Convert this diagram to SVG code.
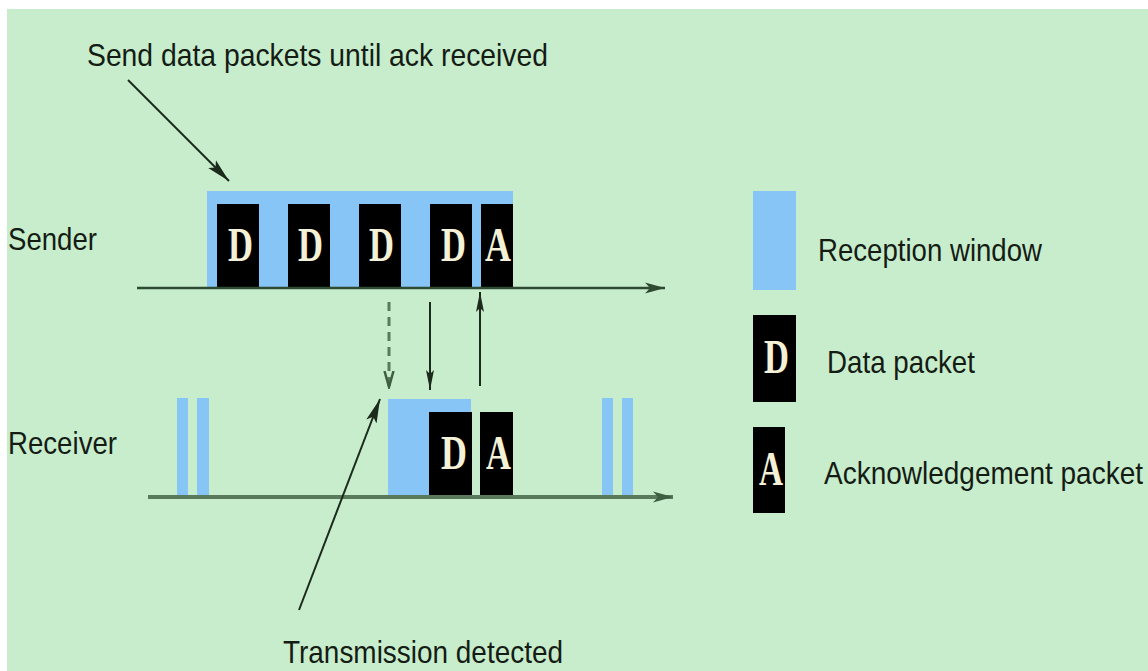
<svg xmlns="http://www.w3.org/2000/svg" width="1148" height="671" viewBox="0 0 1148 671">
  <style>
    .label { font-family: "Liberation Sans", Arial, Helvetica, sans-serif; font-size: 32px; fill: #141c14; }
    .label-tight { font-family: "Liberation Sans", Arial, Helvetica, sans-serif; font-size: 28px; fill: #141c14; }
    .win { fill: #86c5f5; }
    .pkt { fill: #000000; }
    .pkt-txt { font-family: "Liberation Serif", "Times New Roman", serif; font-weight: bold; font-size: 48px; fill: #f4f1d6; }
    .axis { stroke: #2f4a32; stroke-width: 2.5; fill: none; }
    .axis2 { stroke: #5a7a5c; stroke-width: 4; fill: none; }
    .sig { stroke: #1c2a1c; stroke-width: 2; fill: none; }
    .sig-dash { stroke: #5a7a5c; stroke-width: 3; fill: none; stroke-dasharray: 9 6; }
    .ptr { stroke: #1c2a1c; stroke-width: 2; fill: none; }
  </style>
  <defs>
    <marker id="axisHead" markerUnits="userSpaceOnUse" markerWidth="22" markerHeight="14" refX="20" refY="7" orient="auto">
      <path d="M0,1.5 L20,7 L0,12.5 L5,7 Z" fill="#2f4a32"/>
    </marker>
    <marker id="axisHead2" markerUnits="userSpaceOnUse" markerWidth="22" markerHeight="14" refX="20" refY="7" orient="auto">
      <path d="M0,1.5 L20,7 L0,12.5 L5,7 Z" fill="#3f5f42"/>
    </marker>
    <marker id="sigHead" markerUnits="userSpaceOnUse" markerWidth="22" markerHeight="12" refX="20" refY="6" orient="auto">
      <path d="M0,2 L20,6 L0,10 L4,6 Z" fill="#1c2a1c"/>
    </marker>
    <marker id="ptrHead" markerUnits="userSpaceOnUse" markerWidth="26" markerHeight="14" refX="24" refY="7" orient="auto">
      <path d="M0,1.5 L24,7 L0,12.5 L5,7 Z" fill="#1c2a1c"/>
    </marker>
    <marker id="openHead" markerUnits="userSpaceOnUse" markerWidth="18" markerHeight="12" refX="16" refY="6" orient="auto">
      <path d="M0,1.5 L16,6 L0,10.5" fill="none" stroke="#3f5f42" stroke-width="2.5"/>
    </marker>
  </defs>

  <!-- page -->
  <rect x="0" y="0" width="1148" height="671" fill="#ffffff"/>
  <rect x="7" y="9" width="1141" height="662" fill="#c8edcd"/>

  <!-- sender timeline -->
  <g id="sender">
    <text class="label" x="8" y="250" textLength="89" lengthAdjust="spacingAndGlyphs">Sender</text>
    <rect class="win" x="207" y="191" width="306" height="98"/>
    <rect class="pkt" x="217" y="204" width="42" height="85"/>
    <rect class="pkt" x="288" y="204" width="42" height="85"/>
    <rect class="pkt" x="359" y="204" width="42" height="85"/>
    <rect class="pkt" x="430" y="204" width="42" height="85"/>
    <rect class="pkt" x="481" y="204" width="32" height="85"/>
    <text class="pkt-txt" x="228" y="261" textLength="25" lengthAdjust="spacingAndGlyphs">D</text>
    <text class="pkt-txt" x="298" y="261" textLength="25" lengthAdjust="spacingAndGlyphs">D</text>
    <text class="pkt-txt" x="369" y="261" textLength="25" lengthAdjust="spacingAndGlyphs">D</text>
    <text class="pkt-txt" x="441" y="261" textLength="25" lengthAdjust="spacingAndGlyphs">D</text>
    <text class="pkt-txt" x="485" y="261" textLength="26" lengthAdjust="spacingAndGlyphs">A</text>
  </g>

  <!-- receiver timeline -->
  <g id="receiver">
    <text class="label" x="8" y="454" textLength="109" lengthAdjust="spacingAndGlyphs">Receiver</text>
    <rect class="win" x="177" y="398" width="11" height="99"/>
    <rect class="win" x="197" y="398" width="12" height="99"/>
    <rect class="win" x="388" y="399" width="83" height="98"/>
    <rect class="pkt" x="429" y="412" width="43" height="85"/>
    <rect class="pkt" x="480" y="412" width="33" height="85"/>
    <text class="pkt-txt" x="441" y="469" textLength="26" lengthAdjust="spacingAndGlyphs">D</text>
    <text class="pkt-txt" x="486" y="469" textLength="25" lengthAdjust="spacingAndGlyphs">A</text>
    <rect class="win" x="602" y="398" width="11" height="99"/>
    <rect class="win" x="622" y="398" width="11" height="99"/>
  </g>

  <!-- legend -->
  <g id="legend-window">
    <rect class="win" x="753" y="191" width="43" height="99"/>
    <text class="label" x="818" y="261" textLength="224" lengthAdjust="spacingAndGlyphs">Reception window</text>
  </g>
  <g id="legend-data">
    <rect class="pkt" x="753" y="315" width="43" height="87"/>
    <text class="pkt-txt" x="764" y="373" textLength="25" lengthAdjust="spacingAndGlyphs">D</text>
    <text class="label" x="827" y="373" textLength="148" lengthAdjust="spacingAndGlyphs">Data packet</text>
  </g>
  <g id="legend-ack">
    <rect class="pkt" x="753" y="427" width="32" height="86"/>
    <text class="pkt-txt" x="759" y="485" textLength="24" lengthAdjust="spacingAndGlyphs">A</text>
    <!-- narrow label: smaller size stretched vertically to keep the same cap height -->
    <text class="label-tight" transform="translate(824,484) scale(1,1.14)" x="0" y="0">Acknowledgement packet</text>
  </g>

  <!-- annotations -->
  <g id="note-send">
    <text class="label" x="87" y="66" textLength="461" lengthAdjust="spacingAndGlyphs">Send data packets until ack received</text>
  </g>
  <g id="note-detect">
    <text class="label" x="283" y="663" textLength="280" lengthAdjust="spacingAndGlyphs">Transmission detected</text>
  </g>

  <!-- connectors -->
  <g id="connectors">
    <line class="axis" x1="137" y1="288" x2="665" y2="288" marker-end="url(#axisHead)"/>
    <line class="axis2" x1="148" y1="497" x2="673" y2="497" marker-end="url(#axisHead2)"/>
    <line class="sig-dash" x1="389" y1="302" x2="389" y2="387" marker-end="url(#openHead)"/>
    <line class="sig" x1="430" y1="302" x2="430" y2="390" marker-end="url(#sigHead)"/>
    <line class="sig" x1="480" y1="386" x2="480" y2="292" marker-end="url(#sigHead)"/>
    <line class="ptr" x1="128" y1="80" x2="229" y2="181" marker-end="url(#ptrHead)"/>
    <line class="ptr" x1="299" y1="610" x2="380" y2="399" marker-end="url(#ptrHead)"/>
  </g>
</svg>
